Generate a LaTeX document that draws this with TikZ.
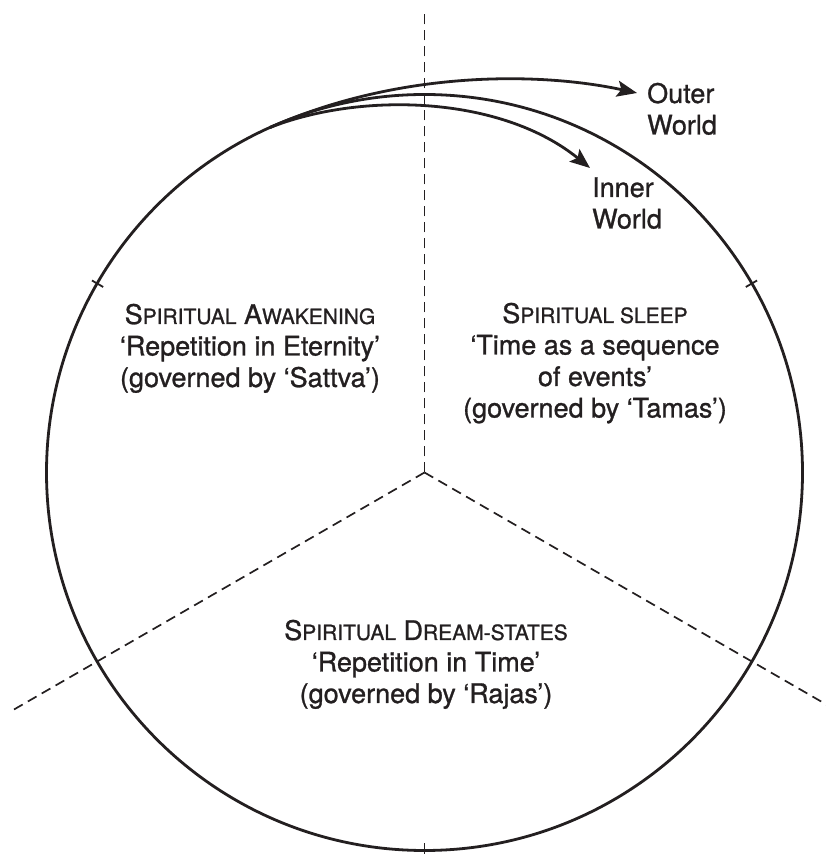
\documentclass[tikz,border=0pt]{standalone}
\usepackage{fontspec}
\setmainfont{TeX Gyre Heros}[FakeBold=1]
\usetikzlibrary{arrows.meta,calc}
\newcommand{\smc}[1]{{\fontsize{21}{31.5}\selectfont #1}}
\definecolor{ink}{HTML}{231F20}
\begin{document}
\begin{tikzpicture}[x=1pt,y=1pt,
  rim/.style={draw=ink,line width=2.8pt},
  divider/.style={draw=ink,line width=1.7pt,dash pattern=on 10pt off 6pt},
  tickmark/.style={draw=ink,line width=1.8pt},
  flow/.style={draw=ink,line width=2.8pt,-{Stealth[length=20pt,width=16pt,inset=4pt]}},
  lbl/.style={inner sep=0pt,text=ink,font=\fontsize{27}{31.5}\selectfont}]
\useasboundingbox (0,0) rectangle (826,854);
\coordinate (c) at (424.5,381.5);
% dashed dividers
\draw[divider] (c) -- ++(90:464);
\draw[divider] (c) -- ++(210:476);
\draw[divider] (c) -- ++(330:476);
% circle
\draw[rim] (c) circle (378);
% ticks
\foreach \a in {30,150,270}
  \draw[tickmark] ($(c)+(\a:371)$) -- ($(c)+(\a:384)$);
% texts
\node[lbl,anchor=base] (awake) at (250,530) {\begin{tabular}[t]{@{}c@{}}S\smc{PIRITUAL} A\smc{WAKENING}\\‘Repetition in Eternity’\\(governed by ‘Sattva’)\end{tabular}};
\node[lbl,anchor=base] (sleep) at (595,531) {\begin{tabular}[t]{@{}c@{}}S\smc{PIRITUAL SLEEP}\\‘Time as a sequence\\of events’\\(governed by ‘Tamas’)\end{tabular}};
\node[lbl,anchor=base] (dream) at (426,214) {\begin{tabular}[t]{@{}c@{}}S\smc{PIRITUAL} D\smc{REAM-STATES}\\‘Repetition in Time’\\(governed by ‘Rajas’)\end{tabular}};
\node[lbl,anchor=base west] (outer) at (647,751) {\begin{tabular}[t]{@{}l@{}}Outer\\World\end{tabular}};
\node[lbl,anchor=base west] (inner) at (592,657) {\begin{tabular}[t]{@{}l@{}}Inner\\World\end{tabular}};
% arrows
\coordinate (start) at (270,726.5);
\coordinate (outertip) at (637,761);
\coordinate (innertip) at (590,686);
\draw[flow] (start) .. controls (400,784) and (540,782) .. (outertip);
\draw[flow] (start) .. controls (360,762) and (500,759) .. (innertip);
\end{tikzpicture}
\end{document}
